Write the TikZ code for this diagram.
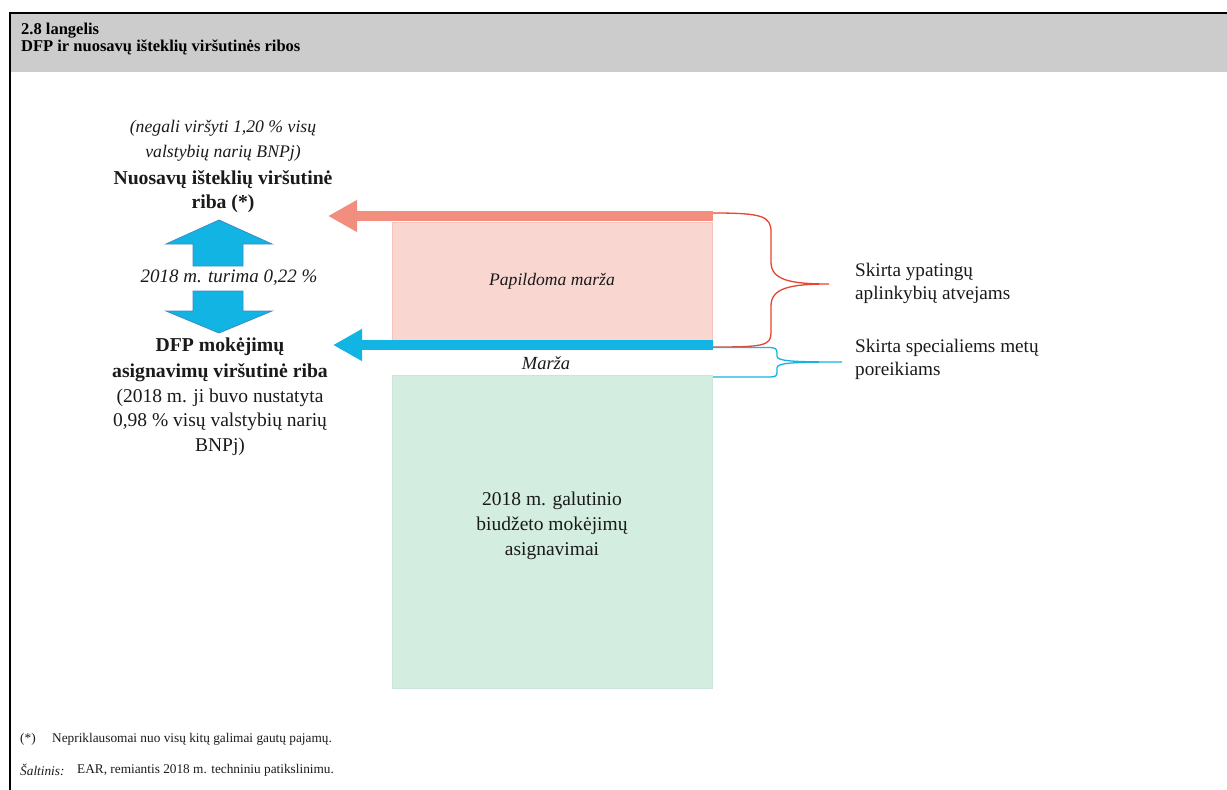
\documentclass[tikz,border=0pt]{standalone}
\usepackage{fontspec}
\setmainfont{Liberation Serif}
\usetikzlibrary{arrows.meta}
\definecolor{hdrgray}{HTML}{CCCCCC}
\definecolor{salmon}{HTML}{F28E7E}
\definecolor{pinkfill}{HTML}{F9D7D0}
\definecolor{pinkedge}{HTML}{F6C3BA}
\definecolor{cyanA}{HTML}{12B4E4}
\definecolor{cyanEdge}{HTML}{3A8CC4}
\definecolor{greenfill}{HTML}{D3EDE1}
\definecolor{greenedge}{HTML}{C9E6D8}
\definecolor{bracered}{HTML}{E8442E}
\definecolor{txt}{HTML}{1A1A1A}
\tikzset{
  lbl/.style={inner sep=0pt, text=txt, font=\fontsize{19}{25}\selectfont, align=center},
  rlbl/.style={inner sep=0pt, text=txt, font=\fontsize{19.2}{23}\selectfont, align=left, anchor=west},
  foot/.style={inner sep=0pt, text=txt, font=\fontsize{13.3}{14}\selectfont, anchor=west},
  hdr/.style={inner sep=0pt, text=black, font=\bfseries\fontsize{16.5}{15}\selectfont, anchor=base west},
  thickarrow/.style={line width=10pt, -{Triangle[length=29pt,width=30pt]}},
  blockarrow/.style={fill=cyanA, draw=cyanEdge, line width=0.8pt},
}
\begin{document}
\begin{tikzpicture}[x=1pt,y=-1pt]
\useasboundingbox (0,0) rectangle (1227,790);
% header
\fill[hdrgray] (11,14) rectangle (1227,72);
\draw[line width=2pt] (9,13) -- (1227,13);
\draw[line width=2pt] (10,12) -- (10,790);
\node[hdr] (title1) at (21,34) {2.8 langelis};
\node[hdr] (title2) at (21,51.5) {DFP ir nuosavų išteklių viršutinės ribos};

% rectangles
\node[draw=pinkedge, fill=pinkfill, line width=0.8pt, minimum width=320pt, minimum height=118pt, inner sep=0pt] (pink) at (552,281) {};
\node[lbl, font=\itshape\fontsize{17.6}{24}\selectfont] (papil) at (552,281) {Papildoma marža};
\node[draw=greenedge, fill=greenfill, line width=0.6pt, minimum width=320pt, minimum height=313pt, inner sep=0pt] (green) at (552.5,531.5) {};
\node[lbl, font=\fontsize{19.5}{25}\selectfont] (gtext) at (552,526) {2018 m. galutinio\\biudžeto mokėjimų\\asignavimai};
\node[lbl, font=\itshape\fontsize{18.5}{24}\selectfont] (marza) at (546,363) {Marža};

% thick arrows
\coordinate (sStart) at (712.5,216);
\coordinate (sTip) at (328,216);
\draw[thickarrow, salmon] (sStart) -- (sTip);
\coordinate (bStart) at (713,345);
\coordinate (bTip) at (333,345);
\draw[thickarrow, cyanA] (bStart) -- (bTip);

% braces
\draw[bracered, line width=1.3pt] (713,213) .. controls (762,213) and (771,216) .. (771,232)
  -- (771,262) .. controls (771,280) and (790,284) .. (829,284)
  .. controls (790,284) and (771,288) .. (771,306)
  -- (771,333) .. controls (771,346) and (762,347) .. (713,347);
\draw[cyanA, line width=1.3pt] (713,347.5) -- (768,347.5) .. controls (776,347.5) and (777,349) .. (777,353)
  -- (777,356) .. controls (777,361) and (790,362) .. (842,362)
  .. controls (790,362) and (777,363) .. (777,368)
  -- (777,372) .. controls (777,376) and (776,377) .. (768,377) -- (713,377);

% right labels
\node[rlbl] (r1) at (855,283.5) {Skirta ypatingų\\aplinkybių atvejams};
\node[rlbl] (r2) at (855,359) {Skirta specialiems metų\\poreikiams};

% left column
\node[lbl, font=\itshape\fontsize{17.7}{25}\selectfont] (neg) at (223,140.5) {(negali viršyti 1,20 \% visų\\valstybių narių BNPj)};
\node[lbl, font=\bfseries\fontsize{19.7}{24}\selectfont] (nuos) at (223,192) {Nuosavų išteklių viršutinė\\riba (*)};
\draw[blockarrow] (193,266) -- (193,244) -- (166,244) -- (219,220) -- (272,244) -- (243,244) -- (243,266) -- cycle;
\node[lbl, font=\itshape\fontsize{19}{24}\selectfont] (turima) at (229,278) {2018 m. turima 0,22 \%};
\draw[blockarrow] (193,291) -- (193,311) -- (166,311) -- (219,333) -- (272,311) -- (243,311) -- (243,291) -- cycle;
\node[lbl, font=\bfseries\fontsize{19.7}{26}\selectfont] (dfp) at (220,360) {DFP mokėjimų\\asignavimų viršutinė riba};
\node[lbl, font=\fontsize{19.5}{24.5}\selectfont] (nust) at (220,422) {(2018 m. ji buvo nustatyta\\0,98 \% visų valstybių narių\\BNPj)};

% footnotes
\node[foot] (star) at (20,739) {(*)};
\node[foot] (f1) at (52,739) {Nepriklausomai nuo visų kitų galimai gautų pajamų.};
\node[foot, font=\itshape\fontsize{13.3}{14}\selectfont] (salt) at (20,770) {Šaltinis:};
\node[foot] (f2) at (77,770) {EAR, remiantis 2018 m. techniniu patikslinimu.};
\end{tikzpicture}
\end{document}
